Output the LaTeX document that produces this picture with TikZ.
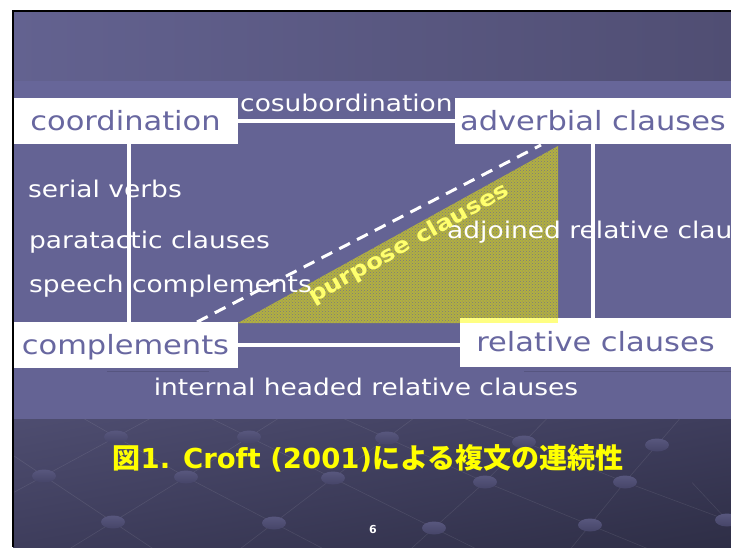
\documentclass[tikz,border=0pt]{standalone}
\usepackage{fontspec}
\setmainfont{DejaVu Sans}
\newfontfamily\boxfont[FakeStretch=1.15]{DejaVu Sans}
\newfontfamily\jpfont{Noto Sans CJK JP}
\usetikzlibrary{patterns,calc,shadings}
\definecolor{bgmain}{RGB}{100,99,148}
\definecolor{bandcol}{RGB}{103,102,153}
\definecolor{topL}{RGB}{99,98,144}
\definecolor{topR}{RGB}{80,78,115}
\definecolor{botTL}{RGB}{78,77,112}
\definecolor{botMid}{RGB}{62,61,92}
\definecolor{botBR}{RGB}{46,46,70}
\definecolor{boxtext}{RGB}{104,103,160}
\definecolor{beadTop}{RGB}{88,87,126}
\definecolor{beadBot}{RGB}{70,69,104}
\definecolor{trifill}{RGB}{178,176,64}
\definecolor{tridots}{RGB}{122,120,128}
\definecolor{stripcol}{RGB}{255,255,130}
\definecolor{shadowln}{RGB}{86,85,128}
\definecolor{titleyellow}{RGB}{255,255,0}
\begin{document}
\begin{tikzpicture}[x=1pt,y=-1pt,
  box/.style={fill=white, inner sep=0pt, outer sep=0pt, anchor=north west,
    text=boxtext, font=\boxfont\fontsize{26.5}{30}\selectfont,
    text height=20pt, text depth=2pt},
  wtext/.style={text=white, inner sep=0pt, anchor=base west,
    font=\boxfont\fontsize{23}{26}\selectfont},
  conn/.style={draw=white, line width=4pt},
  bead/.style={top color=beadTop, bottom color=beadBot, draw=none},
  lattice/.style={draw=white, draw opacity=0.09, line width=0.6pt},
]
\useasboundingbox (0,0) rectangle (731,547);
\fill[white] (0,0) rectangle (731,547);
% backgrounds
\shade[left color=topL, right color=topR] (13,11) rectangle (731,81);
\fill[bandcol] (13,81) rectangle (731,98);
\fill[bgmain] (13,98) rectangle (731,419);
\shade[upper left=botTL, upper right=botMid, lower left=botMid, lower right=botBR] (13,419) rectangle (731,547);
% bottom decoration
\coordinate (A1) at (116,437); \coordinate (A2) at (249,437); \coordinate (A3) at (387,438);
\coordinate (A4) at (524,442); \coordinate (A5) at (657,445);
\coordinate (B1) at (44,476); \coordinate (B2) at (186,477); \coordinate (B3) at (333,478);
\coordinate (B4) at (485,482); \coordinate (B5) at (625,482);
\coordinate (C1) at (113,522); \coordinate (C2) at (274,523); \coordinate (C3) at (434,528);
\coordinate (C4) at (590,525); \coordinate (C5) at (727,520);
\begin{scope}
\clip (13,419) rectangle (731,547);
\draw[lattice] ($(B1)!-1.2!(C1)$) -- (B1) -- (C1) -- ($(C1)!-1!(B1)$);
\draw[lattice] ($(A1)!-1!(B2)$) -- (A1) -- (B2) -- (C2) -- ($(C2)!-1!(B2)$);
\draw[lattice] ($(A2)!-1!(B3)$) -- (A2) -- (B3) -- (C3) -- ($(C3)!-1!(B3)$);
\draw[lattice] ($(A3)!-1!(B4)$) -- (A3) -- (B4) -- (C4) -- ($(C4)!-1!(B4)$);
\draw[lattice] ($(A4)!-1!(B5)$) -- (A4) -- (B5) -- (C5) -- ($(C5)!-1!(B5)$);
\draw[lattice] ($(C1)!-1!(B2)$) -- (C1) -- (B2) -- (A2) -- ($(A2)!-1!(B2)$);
\draw[lattice] ($(C2)!-1!(B3)$) -- (C2) -- (B3) -- (A3) -- ($(A3)!-1!(B3)$);
\draw[lattice] ($(C3)!-1!(B4)$) -- (C3) -- (B4) -- (A4) -- ($(A4)!-1!(B4)$);
\draw[lattice] ($(C4)!-1!(B5)$) -- (C4) -- (B5) -- (A5) -- ($(A5)!-1!(B5)$);
\draw[lattice] ($(B1)!-1!(A1)$) -- (B1) -- (A1) -- ($(A1)!-1!(B1)$);
\draw[lattice] ($(C5)!-1!(A5)$) -- (C5) -- ($(C5)!0.5!(A5)$);
\foreach \p in {A1,A2,A3,A4,A5,B1,B2,B3,B4,B5,C1,C2,C3,C4,C5}
  \shade[bead] (\p) ellipse [x radius=12, y radius=6.5];
\end{scope}
% triangle
\coordinate (tA) at (238,323); \coordinate (tB) at (558,146); \coordinate (tC) at (558,323);
\fill[trifill] (tA) -- (tB) -- (tC) -- cycle;
\fill[pattern=crosshatch dots, pattern color=tridots] (tA) -- (tB) -- (tC) -- cycle;
% dashed line
\coordinate (d1) at (197,322); \coordinate (d2) at (541,145);
\draw[white, line width=3pt, dash pattern=on 12pt off 8pt] (d1) -- (d2);
% faint shadow lines
\draw[shadowln, line width=1pt] (107,371) -- (209,371);
\draw[shadowln, line width=1pt] (524,371) -- (731,371);
% texts
\node[wtext] (cosub) at (240,111) {cosubordination};
\node[wtext] (serial) at (28,197) {serial verbs};
\node[wtext] (parat) at (29,248) {paratactic clauses};
\node[wtext] (speech) at (29,292) {speech complements};
\node[wtext] (adjrel) at (447,238) {adjoined relative clauses};
\node[wtext, anchor=base] (ihrc) at (366,395) {internal headed relative clauses};
% boxes
\node[box, minimum width=225pt, minimum height=46pt] (coord) at (13,98) {coordination};
\node[box, minimum width=276pt, minimum height=46pt] (adv) at (455,98) {adverbial clauses};
\node[box, minimum width=225pt, minimum height=46pt] (comp) at (13,322) {complements};
\node[box, minimum width=271pt, minimum height=49pt] (rel) at (460,318) {relative clauses};
% connectors
\draw[conn] (coord.east) -- (adv.west);
\draw[conn] ([xshift=3.5pt]coord.south) -- ([xshift=3.5pt]coord.south |- comp.north);
\draw[conn] (adv.south) -- (adv.south |- rel.north);
\draw[conn] (comp.east) -- (comp.east -| rel.west);
% strip
\fill[stripcol] (rel.north west) rectangle (tC);
% purpose clauses
\node[text={rgb,255:red,255;green,255;blue,110}, inner sep=0pt, rotate=29,
  font=\boxfont\bfseries\fontsize{21.5}{24}\selectfont] (purp) at (409,244) {purpose clauses};
% title and page number
\node[text=titleyellow, inner sep=0pt, anchor=base] (title) at (368,468)
  {{\jpfont\bfseries\fontsize{28}{30}\selectfont 図}{\bfseries\fontsize{27.5}{30}\selectfont 1. Croft (2001)}{\jpfont\bfseries\fontsize{28}{30}\selectfont による複文の連続性}};
\node[text=white, inner sep=0pt, anchor=base,
  font=\bfseries\fontsize{11}{13}\selectfont] (pnum) at (373,533) {6};
% border
\draw[black, line width=2pt] (13,547) -- (13,11) -- (731,11);
\end{tikzpicture}
\end{document}
